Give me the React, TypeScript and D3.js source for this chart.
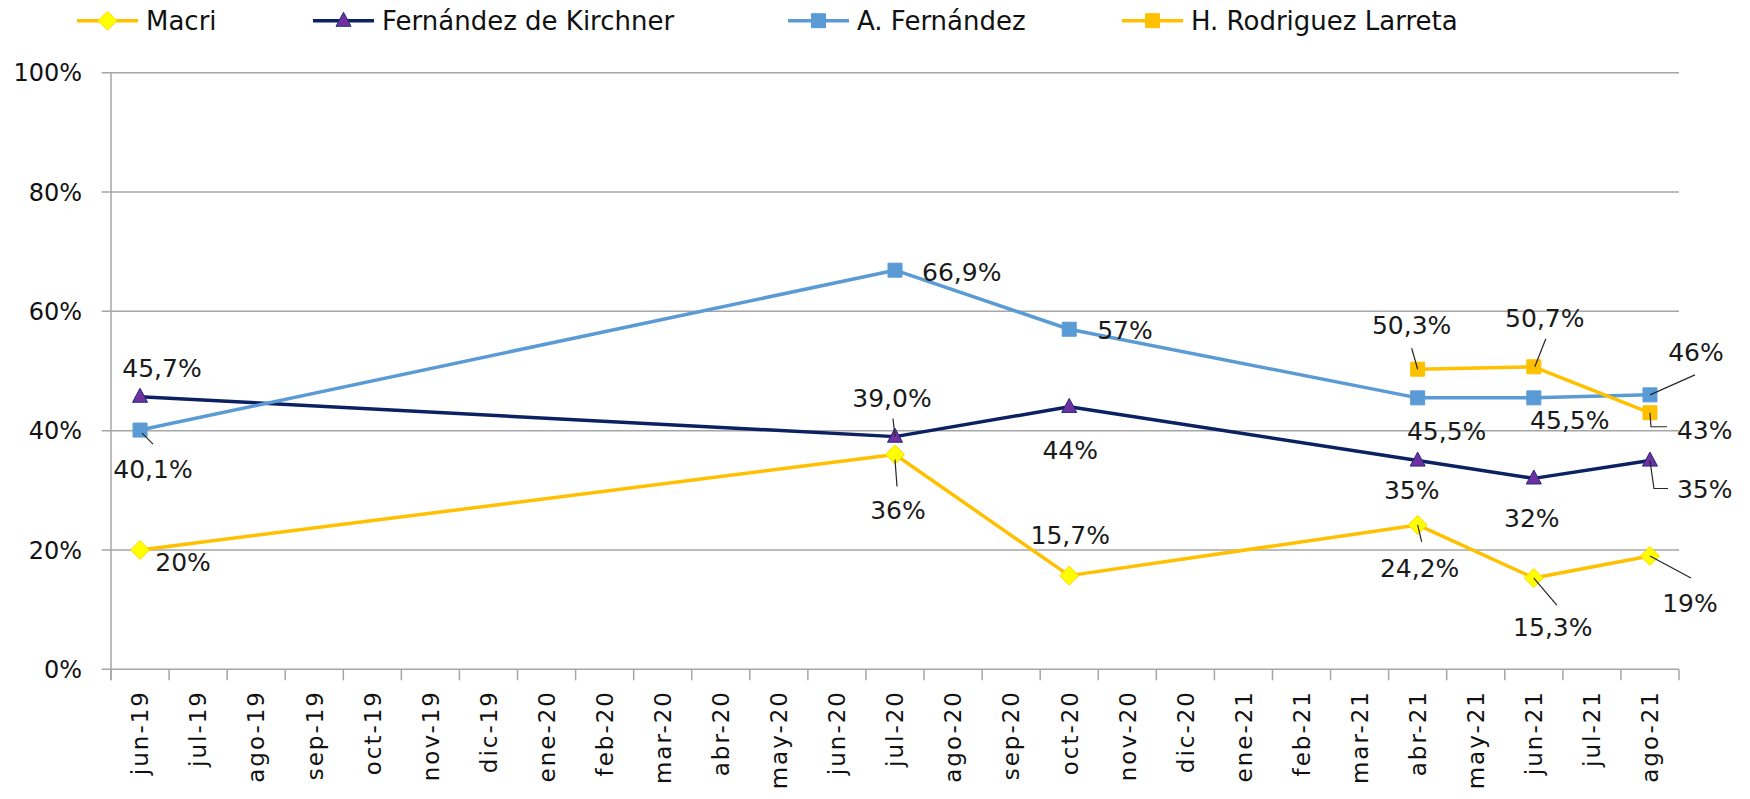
import React from "react";
import * as d3 from "d3";

// ---------------- DATA ----------------
const months = [
  "jun-19", "jul-19", "ago-19", "sep-19", "oct-19", "nov-19", "dic-19",
  "ene-20", "feb-20", "mar-20", "abr-20", "may-20", "jun-20", "jul-20", "ago-20",
  "sep-20", "oct-20", "nov-20", "dic-20",
  "ene-21", "feb-21", "mar-21", "abr-21", "may-21", "jun-21", "jul-21", "ago-21",
];
const surveyMonths = ["jun-19", "jul-20", "oct-20", "abr-21", "jun-21", "ago-21"];
const yTicks = [0, 20, 40, 60, 80, 100];

const macriValues = [20, 36, 15.7, 24.2, 15.3, 19];
const macriLabels = ["20%", "36%", "15,7%", "24,2%", "15,3%", "19%"];
const kirchnerValues = [45.7, 39.0, 44, 35, 32, 35];
const kirchnerLabels = ["45,7%", "39,0%", "44%", "35%", "32%", "35%"];
const aFernandezValues = [40.1, 66.9, 57, 45.5, 45.5, 46];
const aFernandezLabels = ["40,1%", "66,9%", "57%", "45,5%", "45,5%", "46%"];
const larretaValues: (number | null)[] = [null, null, null, 50.3, 50.7, 43];
const larretaLabels = ["", "", "", "50,3%", "50,7%", "43%"];

const seriesNames = ["Macri", "Fernández de Kirchner", "A. Fernández", "H. Rodriguez Larreta"];

// ---------------- PRESENTATION ----------------
type Place = { dx: number; dy: number; anchor?: string; leader?: number[][] };
const macriPlace: Place[] = [
  { dx: 43, dy: 12 },
  { dx: 3, dy: 55, leader: [[0, 5], [2, 32]] },
  { dx: 1, dy: -41 },
  { dx: 2, dy: 43, leader: [[0, 0], [4, 17]] },
  { dx: 19, dy: 49, leader: [[0, 0], [23, 27]] },
  { dx: 40, dy: 47, leader: [[0, 0], [41, 22]] },
];
const kirchnerPlace: Place[] = [
  { dx: 22, dy: -29 },
  { dx: -3, dy: -39, leader: [[-2, -18], [0, 0]] },
  { dx: 1, dy: 43 },
  { dx: -6, dy: 30 },
  { dx: -2, dy: 40 },
  { dx: 27, dy: 29, anchor: "start", leader: [[0, 0], [4, 28], [18, 28]] },
];
const aFernandezPlace: Place[] = [
  { dx: 13, dy: 39, leader: [[2, 3], [13, 14]] },
  { dx: 27, dy: 2, anchor: "start" },
  { dx: 28, dy: 1, anchor: "start" },
  { dx: 29, dy: 33 },
  { dx: 36, dy: 22 },
  { dx: 46, dy: -43, leader: [[0, 0], [45, -20]] },
];
const larretaPlace: Place[] = [
  { dx: 0, dy: 0 }, { dx: 0, dy: 0 }, { dx: 0, dy: 0 },
  { dx: -6, dy: -44, leader: [[-6, -21], [0, 0]] },
  { dx: 11, dy: -49, leader: [[12, -28], [1, 0]] },
  { dx: 27, dy: 17, anchor: "start", leader: [[0, 0], [1, 14], [17, 14]] },
];

const W = 1750;
const H = 799;
const plotLeft = 111;
const plotRight = 1679;
const plotTop = 72.7;
const plotBottom = 669.3;

const labelFont = "'DejaVu Sans', Verdana, sans-serif";

type Marker = "diamond" | "triangle" | "square";

function markerPath(kind: Marker, cx: number, cy: number): string {
  if (kind === "diamond") {
    const r = 9.5;
    return `M${cx},${cy - r}L${cx + r},${cy}L${cx},${cy + r}L${cx - r},${cy}Z`;
  }
  if (kind === "triangle") {
    const w = 7.5, h = 14;
    return `M${cx},${cy - h * 0.6}L${cx + w},${cy + h * 0.4}L${cx - w},${cy + h * 0.4}Z`;
  }
  const s = 7;
  return `M${cx - s},${cy - s}H${cx + s}V${cy + s}H${cx - s}Z`;
}

export default function App() {
  const x = d3.scaleBand<string>().domain(months).range([plotLeft, plotRight]).padding(0);
  const bw = x.bandwidth();
  const cx = (m: string) => (x(m) as number) + bw / 2;
  const y = d3.scaleLinear().domain([0, 100]).range([plotBottom, plotTop]);

  const series = [
    { name: seriesNames[0], values: macriValues as (number | null)[], labels: macriLabels, place: macriPlace,
      line: "#FFC000", fill: "#FFFF00", stroke: "#FFD700", marker: "diamond" as Marker },
    { name: seriesNames[1], values: kirchnerValues as (number | null)[], labels: kirchnerLabels, place: kirchnerPlace,
      line: "#0B2161", fill: "#7030A0", stroke: "#1F2A80", marker: "triangle" as Marker },
    { name: seriesNames[2], values: aFernandezValues as (number | null)[], labels: aFernandezLabels, place: aFernandezPlace,
      line: "#5B9BD5", fill: "#5B9BD5", stroke: "#5B9BD5", marker: "square" as Marker },
    { name: seriesNames[3], values: larretaValues, labels: larretaLabels, place: larretaPlace,
      line: "#FFC000", fill: "#FFC000", stroke: "#FFC000", marker: "square" as Marker },
  ];

  const lineGen = d3
    .line<[string, number | null]>()
    .defined((d) => d[1] !== null)
    .x((d) => cx(d[0]))
    .y((d) => y(d[1] as number));

  const legendStarts = [77, 313, 788, 1122];
  const legendY = 20.7;
  const gridColor = "#A6A6A6";

  const tickBoundaries = d3.range(months.length + 1).map((i) => plotLeft + i * bw);

  return (
    <svg width={W} height={H} style={{ position: "absolute", left: 0, top: 0, background: "#fff" }}>
      <rect x={0} y={0} width={W} height={H} fill="#fff" />
      {/* gridlines */}
      {yTicks.map((t) => (
        <g key={"g" + t}>
          <line x1={101.7} x2={plotRight} y1={y(t)} y2={y(t)} stroke={gridColor} strokeWidth={1.5} />
          <text x={82} y={y(t)} dy="0.36em" textAnchor="end" fontFamily={labelFont} fontSize={24} fill="#111">
            {t}%
          </text>
        </g>
      ))}
      {/* y axis */}
      <line x1={plotLeft} x2={plotLeft} y1={plotTop} y2={plotBottom + 11} stroke={gridColor} strokeWidth={1.5} />
      {/* x ticks */}
      {tickBoundaries.map((tx, i) => (
        <line key={"t" + i} x1={tx} x2={tx} y1={plotBottom} y2={plotBottom + 11} stroke={gridColor} strokeWidth={1.5} />
      ))}
      {months.map((m) => (
        <text
          key={"m" + m}
          transform={`translate(${cx(m)},${690}) rotate(-90)`}
          textAnchor="end"
          dy="0.36em"
          fontFamily={labelFont}
          fontSize={23}
          letterSpacing={2}
          fill="#111"
        >
          {m}
        </text>
      ))}

      {/* series lines */}
      {series.map((s) => (
        <path
          key={"l" + s.name}
          d={lineGen(surveyMonths.map((m, i) => [m, s.values[i]] as [string, number | null])) || ""}
          fill="none"
          stroke={s.line}
          strokeWidth={3.5}
          strokeLinejoin="round"
        />
      ))}
      {/* markers */}
      {series.map((s) =>
        surveyMonths.map((m, i) =>
          s.values[i] === null ? null : (
            <path
              key={"mk" + s.name + m}
              d={markerPath(s.marker, cx(m), y(s.values[i] as number))}
              fill={s.fill}
              stroke={s.stroke}
              strokeWidth={1}
            />
          )
        )
      )}
      {/* leaders */}
      {series.map((s) =>
        surveyMonths.map((m, i) => {
          const p = s.place[i];
          if (s.values[i] === null || !p.leader) return null;
          const px = cx(m);
          const py = y(s.values[i] as number);
          const d = "M" + p.leader.map((q) => `${px + q[0]},${py + q[1]}`).join("L");
          return <path key={"ld" + s.name + m} d={d} fill="none" stroke="#262626" strokeWidth={1.2} />;
        })
      )}
      {/* data labels */}
      {series.map((s) =>
        surveyMonths.map((m, i) => {
          if (s.values[i] === null) return null;
          const p = s.place[i];
          return (
            <text
              key={"dl" + s.name + m}
              x={cx(m) + p.dx}
              y={y(s.values[i] as number) + p.dy}
              dy="0.36em"
              textAnchor={p.anchor || "middle"}
              fontFamily={labelFont}
              fontSize={25}
              fill="#1a1a1a"
            >
              {s.labels[i]}
            </text>
          );
        })
      )}

      {/* legend */}
      {series.map((s, i) => {
        const x0 = legendStarts[i];
        return (
          <g key={"lg" + s.name}>
            <line x1={x0} x2={x0 + 61} y1={legendY} y2={legendY} stroke={s.line} strokeWidth={3.5} />
            <path d={markerPath(s.marker, x0 + 30.5, legendY)} fill={s.fill} stroke={s.stroke} strokeWidth={1} />
            <text x={x0 + 69} y={legendY} dy="0.36em" fontFamily={labelFont} fontSize={26} fill="#111">
              {s.name}
            </text>
          </g>
        );
      })}
    </svg>
  );
}
